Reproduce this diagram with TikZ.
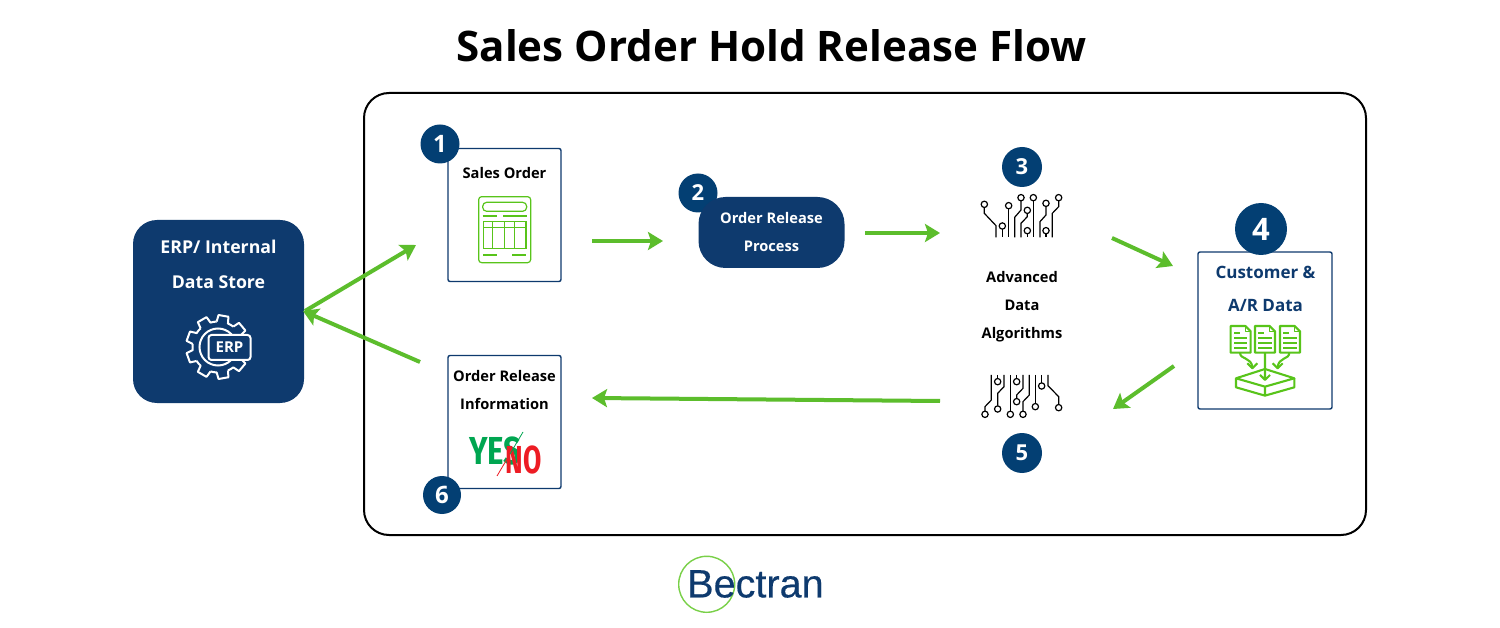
\documentclass[tikz,border=0pt]{standalone}
\usepackage{fontspec}
\setmainfont{Open Sans}
\newfontfamily\logofont[FakeBold=0.35]{Liberation Sans}
\newfontfamily\yesfont{Fira Sans}
\usetikzlibrary{arrows.meta}
\definecolor{navy}{HTML}{0E3A6E}
\definecolor{disc}{HTML}{033F73}
\definecolor{grn}{HTML}{5CBD2C}
\definecolor{icon}{HTML}{58C41A}
\tikzset{
  flow/.style={draw=grn,line width=4pt,-{Stealth[length=15pt,width=18pt,inset=3pt]}},
  numdisc/.style={circle,fill=disc,text=white,inner sep=0pt,font=\bfseries\fontsize{24}{24}\selectfont},
  card/.style={draw=navy,line width=1.4pt,rounded corners=2pt,fill=white,inner sep=0pt},
  lbl/.style={align=center,font=\bfseries\fontsize{14.65}{28}\selectfont,inner sep=0pt},
  ic/.style={draw=icon,line width=1.2pt},
  icb/.style={draw=icon,line width=2.1pt,line join=round},
}
\newcommand{\pad}[2]{\draw[line width=1.2pt] (#1,#2) circle (9.5);}
\begin{document}
\begin{tikzpicture}[x=1pt,y=-1pt]
\useasboundingbox (0,0) rectangle (1500,628);
\fill[white] (0,0) rectangle (1500,628);
\node[font=\bfseries\fontsize{42.1}{42}\selectfont,inner sep=0pt] (title) at (771.5,46) {Sales Order Hold Release Flow};
\node[draw=black,line width=2pt,rounded corners=25pt,minimum width=1002pt,minimum height=442pt,inner sep=0pt] (frame) at (865,314) {};
% ERP
\node[fill=navy,rounded corners=24pt,minimum width=171pt,minimum height=183pt,inner sep=0pt] (erp) at (218.5,311.5) {};
\node[lbl,text=white,font=\bfseries\fontsize{17.7}{35}\selectfont] (erpt) at (218.5,264.5) {ERP/ Internal\\Data Store};
\begin{scope}[shift={(218,347)}]
\foreach \a in {0,40,...,320} {
 \draw[white,line width=2pt,line join=round]
  ({\a-13}:25.5) -- ({\a-9}:32) -- ({\a+9}:32) -- ({\a+13}:25.5) arc[start angle={\a+13},end angle={\a+27},radius=25.5];
}
\draw[white,line width=2pt] (0,0) circle (18.5);
\end{scope}
\node[draw=white,fill=navy,line width=2pt,rounded corners=3pt,minimum width=42pt,minimum height=25pt,inner sep=0pt,text=white,font=\bfseries\fontsize{15}{15}\selectfont] (erpi) at (229.5,347.5) {ERP};
% Sales order
\node[card,minimum width=113pt,minimum height=133pt] (so) at (504.5,215) {};
\node[numdisc,minimum size=39pt] (n1) at (440,144) {1};
\node[lbl] (sot) at (504.5,173) {Sales Order};
\begin{scope}[shift={(410,120)},x=.3333pt,y=-.3333pt]
\draw[ic,rounded corners=3pt] (206,230) rectangle (362,428);
\draw[ic,rounded corners=4pt] (218,247) rectangle (350,274);
\draw[ic] (218,288)--(260,288) (280,288)--(350,288);
\draw[ic] (220,304) rectangle (348,385);
\draw[ic] (220,323)--(348,323) (248,304)--(248,385) (283,304)--(283,385) (313,304)--(313,385);
\draw[ic] (220,405)--(260,405) (307,405)--(348,405);
\end{scope}
% Order release process
\node[numdisc,minimum size=39pt,font=\bfseries\fontsize{22}{22}\selectfont] (n2) at (698,193) {2};
\node[fill=navy,rounded corners=27pt,minimum width=146pt,minimum height=71pt,inner sep=0pt] (orp) at (771.5,232.5) {};
\node[lbl,text=white] (orpt) at (771.5,232) {Order Release\\Process};
% circuits
\node[numdisc,minimum size=40pt,font=\bfseries\fontsize{22}{22}\selectfont] (n3) at (1022,167) {3};
\begin{scope}[shift={(970,185)},x=.3333pt,y=-.3333pt,line width=1.2pt]
\draw (43,68)--(43,85)--(78,122)--(78,157);
\draw (97,133)--(97,157);
\draw (116,72)--(116,157);
\draw (153,48)--(153,75)--(134,97)--(134,157);
\draw (172,86)--(172,95)--(153,115)--(153,157);
\draw (172,147)--(172,157);
\draw (190,48)--(190,157);
\draw (228,65)--(228,90)--(210,110)--(210,157);
\draw (228,147)--(228,157);
\draw (266,48)--(266,65)--(247,85)--(247,157);
\foreach \p/\q in {43/58,97/123,116/62,153/38,172/76,172/137,190/38,228/55,228/137,266/38}{\pad{\p}{\q}}
\end{scope}
\node[lbl] (alg) at (1022,307) {Advanced\\Data\\Algorithms};
\begin{scope}[shift={(970,365)},x=.3333pt,y=-.3333pt,line width=1.2pt]
\draw (64,30)--(64,105)--(45,125)--(45,138);
\draw (83,30)--(83,40);
\draw (102,30)--(102,65)--(83,85)--(83,122);
\draw (121,30)--(121,138);
\draw (140,30)--(140,40);
\draw (159,30)--(159,70)--(140,90)--(140,100);
\draw (178,30)--(178,90)--(159,110)--(159,138);
\draw (196,30)--(196,115);
\draw (215,30)--(215,53);
\draw (234,30)--(234,62)--(266,95)--(266,118);
\foreach \p/\q in {45/148,83/132,83/50,121/148,140/50,140/110,159/148,196/125,215/63,266/128}{\pad{\p}{\q}}
\end{scope}
\node[numdisc,minimum size=40pt,font=\bfseries\fontsize{22}{22}\selectfont] (n5) at (1022,453) {5};
% Customer
\node[card,minimum width=134pt,minimum height=157pt] (cust) at (1265,330.5) {};
\node[numdisc,minimum size=52pt,font=\bfseries\fontsize{31}{31}\selectfont] (n4) at (1261,229) {4};
\node[lbl,text=navy,font=\bfseries\fontsize{17}{33}\selectfont] (custt) at (1265.5,288.5) {Customer \&\\A/R Data};
\begin{scope}[shift={(1190,200)},x=.3333pt,y=-.3333pt]
\foreach \d in {0,73,148}{
 \begin{scope}[xshift=\d*.3333pt]
 \draw[icb] (122,378)--(166,378)--(182,394)--(182,458)--(122,458)--cycle;
 \draw[icb,line width=1.4pt] (166,378)--(166,394)--(182,394);
 \draw[icb] (132,398)--(150,398) (132,415)--(172,415) (132,430)--(172,430) (132,445)--(172,445);
 \end{scope}
}
\draw[icb] (138,535)--(225,507)--(313,535)--(225,560)--cycle;
\draw[icb] (138,535)--(138,562)--(225,587)--(313,562)--(313,535) (225,560)--(225,587);
\draw[icb] (150,458) .. controls (150,480) and (185,470) .. (187,503);
\draw[icb] (172,490)--(187,505)--(202,490);
\draw[icb] (225,458)--(225,540) (210,525)--(225,540)--(240,525);
\draw[icb] (298,458) .. controls (298,480) and (265,470) .. (263,503);
\draw[icb] (248,490)--(263,505)--(278,490);
\end{scope}
% Order release info
\node[card,minimum width=113pt,minimum height=133pt] (ori) at (504.5,422) {};
\node[numdisc,minimum size=38pt] (n6) at (442,495) {6};
\node[lbl] (orit) at (504.5,390) {Order Release\\Information};
\node[inner sep=0pt,text={rgb,255:red,0;green,166;blue,81},font=\yesfont\bfseries\fontsize{39}{39}\selectfont,xscale=.8] (yes) at (495.5,450.5) {YES};
\node[inner sep=0pt,text={rgb,255:red,237;green,28;blue,36},font=\yesfont\bfseries\fontsize{39}{39}\selectfont,xscale=.68] (no) at (523.5,460) {NO};
\draw[line width=.8pt,color={rgb,255:red,237;green,28;blue,36}] (497,476)--(510,454);
\draw[line width=.8pt,color={rgb,255:red,0;green,166;blue,81}] (510,454)--(523,432);
% logo
\node[circle,draw=icon!80!white,line width=1.4pt,minimum size=56pt,inner sep=0pt] (lc) at (706.7,584.3) {};
\node[inner sep=0pt,text=navy,font=\logofont\fontsize{39.6}{39}\selectfont,anchor=west] (logo) at (687,584) {Bectran};
% connectors
\coordinate (a1s) at (305,311); \coordinate (a1e) at (416,245);
\coordinate (a2s) at (420,362); \coordinate (a2e) at (303,311);
\coordinate (a3s) at (592,241); \coordinate (a3e) at (663,241);
\coordinate (a4s) at (865,233); \coordinate (a4e) at (940,233);
\coordinate (a5s) at (1112,238); \coordinate (a5e) at (1173,266);
\coordinate (a6s) at (1174,366); \coordinate (a6e) at (1113,409);
\coordinate (a7s) at (940,401); \coordinate (a7e) at (592,398);
\foreach \i in {1,...,7} \draw[flow] (a\i s) -- (a\i e);
\end{tikzpicture}
\end{document}
